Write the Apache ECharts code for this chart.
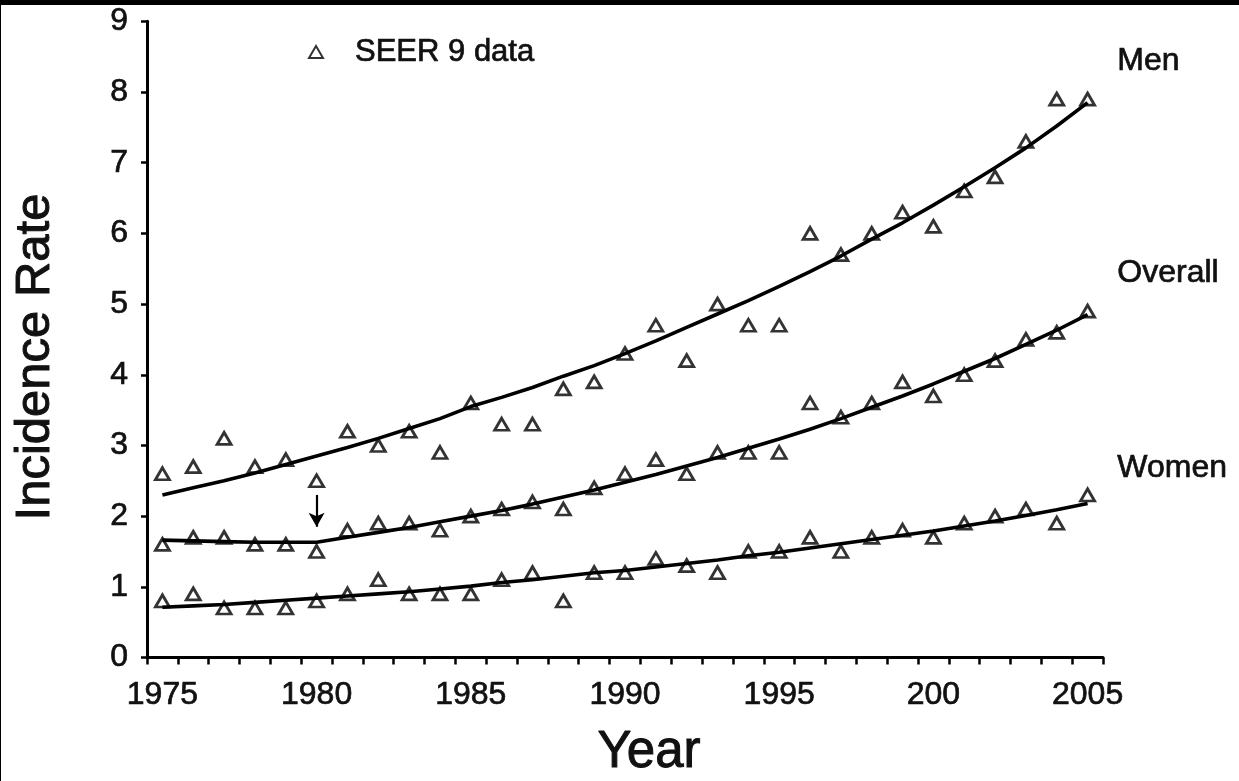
<!DOCTYPE html>
<html>
<head>
<meta charset="utf-8">
<script src="https://cdn.jsdelivr.net/npm/echarts@6/dist/echarts.min.js"></script>
<style>
  html, body { margin: 0; padding: 0; background: #000; width: 1239px; height: 781px; overflow: hidden; }
  #c { position: absolute; left: 1px; top: 5px; width: 1238px; height: 776px; background: #fff; }
</style>
</head>
<body>
<div id="c"></div>
<script>
const years = ['1975','1976','1977','1978','1979','1980','1981','1982','1983','1984',
  '1985','1986','1987','1988','1989','1990','1991','1992','1993','1994',
  '1995','1996','1997','1998','1999','2000','2001','2002','2003','2004','2005'];
const tickLabels = ['1975','1980','1985','1990','1995','200','2005'];

// SEER 9 observed rates
const menObs = [2.6,2.7,3.1,2.7,2.8,2.5,3.2,3.0,3.2,2.9,3.6,3.3,3.3,3.8,3.9,4.3,4.7,4.2,5.0,4.7,4.7,6.0,5.7,6.0,6.3,6.1,6.6,6.8,7.3,7.9,7.9];
const overallObs = [1.6,1.7,1.7,1.6,1.6,1.5,1.8,1.9,1.9,1.8,2.0,2.1,2.2,2.1,2.4,2.6,2.8,2.6,2.9,2.9,2.9,3.6,3.4,3.6,3.9,3.7,4.0,4.2,4.5,4.6,4.9];
const womenObs = [0.8,0.9,0.7,0.7,0.7,0.8,0.9,1.1,0.9,0.9,0.9,1.1,1.2,0.8,1.2,1.2,1.4,1.3,1.2,1.5,1.5,1.7,1.5,1.7,1.8,1.7,1.9,2.0,2.1,1.9,2.3];

// fitted trend lines
const menFit = [2.30,2.40,2.50,2.61,2.73,2.85,2.97,3.10,3.24,3.38,3.55,3.68,3.82,3.98,4.13,4.30,4.48,4.67,4.86,5.05,5.25,5.46,5.68,5.92,6.15,6.40,6.66,6.93,7.21,7.52,7.85];
const overallFit = [1.66,1.65,1.64,1.63,1.63,1.63,1.70,1.77,1.84,1.92,2.00,2.08,2.17,2.27,2.37,2.48,2.59,2.71,2.83,2.96,3.09,3.23,3.38,3.54,3.70,3.87,4.05,4.23,4.43,4.63,4.85];
const womenFit = [0.71,0.73,0.75,0.78,0.81,0.84,0.87,0.90,0.93,0.97,1.01,1.06,1.10,1.15,1.20,1.23,1.28,1.33,1.38,1.44,1.49,1.55,1.61,1.67,1.73,1.79,1.86,1.93,2.01,2.09,2.18];

// arrow marking the 1980 joinpoint
const arrowYear = '1980';
const arrowFrom = 2.30, arrowTo = 1.85;

const FONT = '"Liberation Sans", Arial, Helvetica, sans-serif';
const INK = '#111';
const BOLDEN = { textBorderColor: INK, textBorderWidth: 0.7 };

const chart = echarts.init(document.getElementById('c'), null, { renderer: 'canvas' });

function obsSeries(data) {
  return {
    name: 'SEER 9 data', type: 'scatter', data: data,
    symbol: 'triangle', symbolSize: [14, 12],
    itemStyle: { color: '#fff', borderColor: '#000', borderWidth: 2.8 },
    z: 2
  };
}
function fitSeries(name, data, extra) {
  return Object.assign({
    name: name, type: 'line', data: data, showSymbol: false, symbol: 'none',
    lineStyle: { color: '#000', width: 3.6 }, z: 3, silent: true
  }, extra || {});
}
function txt(extra) {
  return Object.assign({ fill: INK, stroke: INK, lineWidth: 0.7 }, extra);
}

chart.setOption({
  animation: false,
  backgroundColor: '#fff',
  grid: { left: 146, right: 136, top: 16, bottom: 123.5, containLabel: false },
  legend: {
    data: ['SEER 9 data'], left: 302, top: 26, selectedMode: false,
    itemWidth: 14, itemHeight: 12,
    textStyle: Object.assign({ fontFamily: FONT, fontSize: 31, color: INK, lineHeight: 32, padding: [0, 0, 0, 27] }, BOLDEN)
  },
  xAxis: {
    type: 'category', data: years, boundaryGap: true,
    axisLine: { lineStyle: { color: '#000', width: 3 } },
    axisTick: { show: true, interval: 0, length: 7, lineStyle: { color: '#000', width: 2.5 } },
    axisLabel: Object.assign({
      interval: function (i) { return i % 5 === 0; },
      formatter: function (v, i) { return tickLabels[Math.round(i / 5)]; },
      fontFamily: FONT, fontSize: 32, color: INK, margin: 22
    }, BOLDEN),
    splitLine: { show: false }
  },
  yAxis: {
    type: 'value', min: 0, max: 9, interval: 1,
    axisLine: { show: true, lineStyle: { color: '#000', width: 3 } },
    axisTick: { show: true, length: 6, lineStyle: { color: '#000', width: 2.5 } },
    axisLabel: Object.assign({ fontFamily: FONT, fontSize: 32, color: INK, margin: 19 }, BOLDEN),
    splitLine: { show: false }
  },
  graphic: [
    { type: 'text', left: 1116, top: 40, style: txt({ text: 'Men', font: '32px ' + FONT }) },
    { type: 'text', left: 1116, top: 252, style: txt({ text: 'Overall', font: '32px ' + FONT }) },
    { type: 'text', left: 1116, top: 447, style: txt({ text: 'Women', font: '32px ' + FONT }) },
    { type: 'text', x: 648, y: 748, style: txt({ text: 'Year', font: '51px ' + FONT, textAlign: 'center', textVerticalAlign: 'middle', lineWidth: 1 }) },
    { type: 'text', x: 34, y: 352, rotation: Math.PI / 2,
      style: txt({ text: 'Incidence Rate', font: '49px ' + FONT, textAlign: 'center', textVerticalAlign: 'middle', lineWidth: 1 }) }
  ],
  series: [
    obsSeries(menObs),
    obsSeries(overallObs),
    obsSeries(womenObs),
    fitSeries('Men', menFit),
    fitSeries('Overall', overallFit, {
      markLine: {
        silent: true, symbol: ['none', 'arrow'], symbolSize: [12, 14],
        label: { show: false },
        lineStyle: { color: '#000', width: 2.2, type: 'solid' },
        data: [[ { coord: [arrowYear, arrowFrom] }, { coord: [arrowYear, arrowTo] } ]]
      }
    }),
    fitSeries('Women', womenFit)
  ]
});
</script>
</body>
</html>
